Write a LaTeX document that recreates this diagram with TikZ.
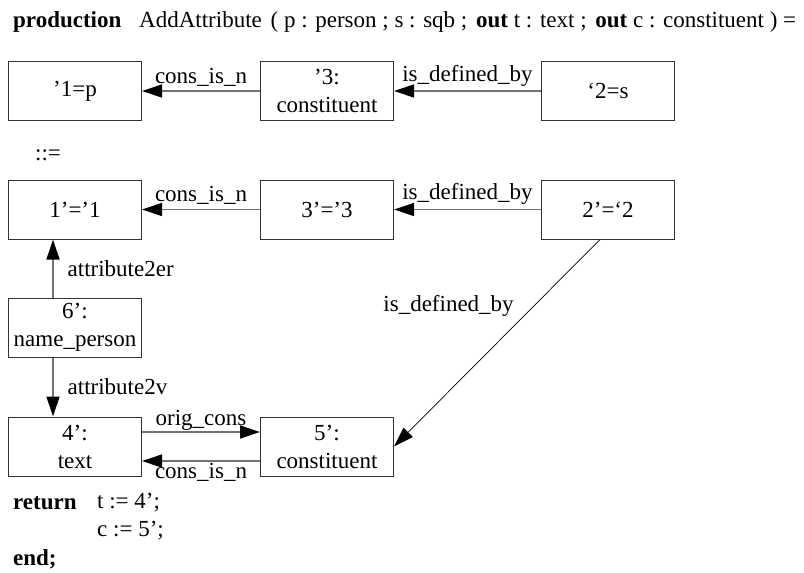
\documentclass[tikz,border=0pt]{standalone}
\usepackage{fontspec}
\setmainfont{Liberation Serif}
\usetikzlibrary{arrows.meta}

\begin{document}
\begin{tikzpicture}[x=1pt,y=-1pt,
  font=\fontsize{23}{28}\selectfont,
  box/.style={draw=black!80, line width=1pt, minimum width=133pt,
    minimum height=59pt, align=center, inner sep=1pt},
  rel/.style={draw=black!55, line width=1.3pt,
    -{Triangle[length=20pt,width=13pt,color=black]}},
  diag/.style={draw=black, line width=0.7pt,
    -{Triangle[length=20pt,width=13pt,color=black]}},
  txt/.style={anchor=west, inner sep=0pt}]
  \useasboundingbox (0,0) rectangle (804,573);
  % Kopfzeile
  \node[txt] (prod) at (13,22) {\textbf{production}};
  \node[txt] (sig) at (139,22) {AddAttribute\ \hspace{3pt}( p : person ; s : sqb ;\ \hspace{3pt}\textbf{out} t : text ;\ \hspace{3pt}\textbf{out} c : constituent ) =};
  % linke Seite
  \node[box] (l1) at (75,91) {’1=p};
  \node[box] (l3) at (327,91) {’3:\\constituent};
  \node[box] (l2) at (608,91) {‘2=s};
  \draw[rel] (l3) -- node[above=3pt, inner sep=1pt] {cons\_is\_n} (l1);
  \draw[rel] (l2) -- node[above=3pt, inner sep=1pt] {is\_defined\_by} (l3);
  \node[txt] (def) at (35,155) {::=};
  % rechte Seite
  \node[box] (r1) at (75,209.5) {1’=’1};
  \node[box] (r3) at (327,209.5) {3’=’3};
  \node[box] (r2) at (608,209.5) {2’=‘2};
  \node[box] (r6) at (75,327.5) {6’:\\name\_person};
  \node[box] (r4) at (75,446.5) {4’:\\text};
  \node[box] (r5) at (327,446.5) {5’:\\constituent};
  \draw[rel] (r3) -- node[above=3pt, inner sep=1pt] {cons\_is\_n} (r1);
  \draw[rel] (r2) -- node[above=3pt, inner sep=1pt] {is\_defined\_by} (r3);
  \draw[rel] ([xshift=-22pt]r6.north) -- node[right=14pt, inner sep=0pt] {attribute2er} ([xshift=-22pt]r1.south);
  \draw[rel] ([xshift=-22pt]r6.south) -- node[right=14pt, inner sep=0pt] {attribute2v} ([xshift=-22pt]r4.north);
  \draw[rel] ([yshift=14.5pt]r4.east) -- node[above, inner sep=1pt] {orig\_cons} ([yshift=14.5pt]r5.west);
  \draw[rel] ([yshift=-14.5pt]r5.west) -- node[below=2pt, inner sep=0pt] {cons\_is\_n} ([yshift=-14.5pt]r4.east);
  \draw[diag] ([xshift=-8pt]r2.south) -- node[pos=0.32, left=20pt, inner sep=0pt] {is\_defined\_by} (r5.east);
  % Rueckgabe
  \node[txt] (ret) at (13,503) {\textbf{return}};
  \node[txt] (rt) at (97,503) {t := 4’;};
  \node[txt] (rc) at (97,531) {c := 5’;};
  \node[txt] (fin) at (13,559) {\textbf{end;}};
\end{tikzpicture}
\end{document}
